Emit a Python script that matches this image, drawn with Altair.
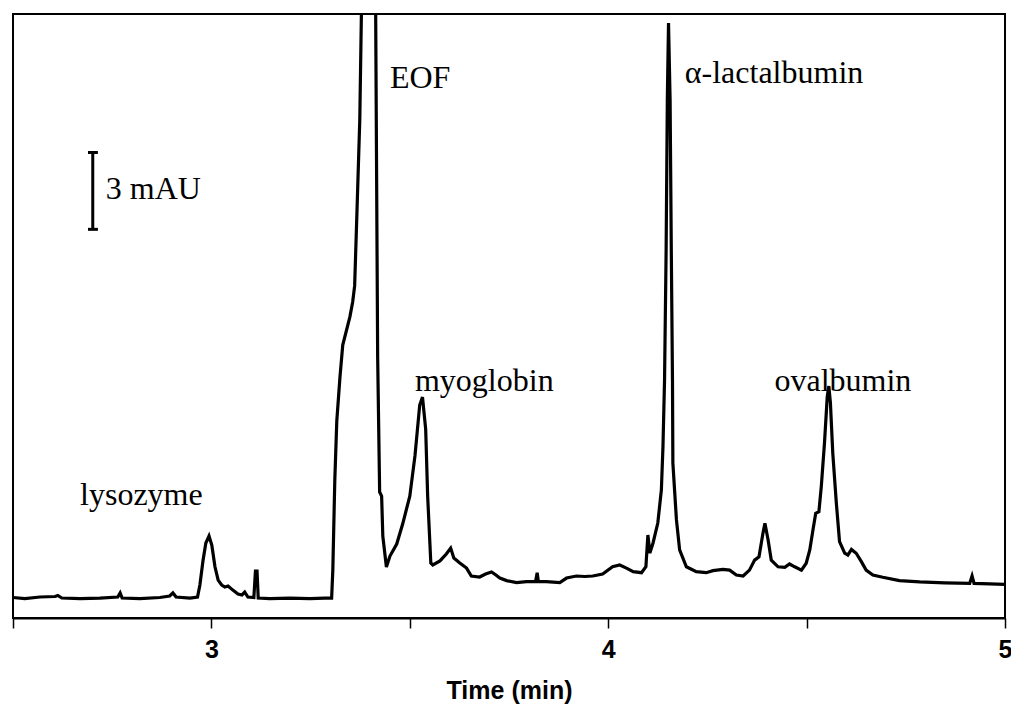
import altair as alt
import pandas as pd

# Electropherogram trace: time (min) and absorbance (mAU, baseline = 0)
time_min = [2.500, 2.530, 2.568, 2.606, 2.613, 2.623, 2.669, 2.719, 2.764, 2.770,
            2.775, 2.820, 2.870, 2.895, 2.903, 2.911, 2.946, 2.965, 2.971, 2.979,
            2.986, 2.994, 3.001, 3.009, 3.017, 3.026, 3.034, 3.042, 3.054, 3.067,
            3.077, 3.084, 3.092, 3.107, 3.111, 3.115, 3.118, 3.147, 3.198, 3.248,
            3.286, 3.303, 3.306, 3.311, 3.316, 3.324, 3.331, 3.349, 3.356, 3.361,
            3.367, 3.374, 3.378, 3.397, 3.414, 3.419, 3.424, 3.429, 3.432, 3.441,
            3.450, 3.467, 3.482, 3.500, 3.513, 3.525, 3.532, 3.540, 3.545, 3.553,
            3.558, 3.576, 3.592, 3.603, 3.611, 3.626, 3.643, 3.655, 3.676, 3.691,
            3.706, 3.717, 3.727, 3.744, 3.769, 3.794, 3.817, 3.821, 3.824, 3.844,
            3.878, 3.895, 3.920, 3.941, 3.961, 3.986, 4.011, 4.029, 4.046, 4.063,
            4.084, 4.095, 4.100, 4.105, 4.113, 4.125, 4.134, 4.138, 4.142, 4.146,
            4.149, 4.152, 4.156, 4.159, 4.162, 4.163, 4.172, 4.180, 4.197, 4.222,
            4.247, 4.264, 4.289, 4.306, 4.323, 4.340, 4.356, 4.369, 4.380, 4.390,
            4.395, 4.403, 4.411, 4.428, 4.445, 4.457, 4.470, 4.487, 4.499, 4.508,
            4.516, 4.523, 4.531, 4.537, 4.545, 4.552, 4.556, 4.560, 4.566, 4.575,
            4.583, 4.596, 4.604, 4.613, 4.625, 4.638, 4.650, 4.667, 4.692, 4.734,
            4.785, 4.848, 4.911, 4.917, 4.922, 4.961, 4.999]
signal_mAU = [0.02, -0.02, 0.04, 0.06, 0.10, 0.00, -0.02, 0.00, 0.04, 0.20,
              0.00, -0.02, 0.02, 0.08, 0.20, 0.04, 0.00, 0.04, 0.51, 1.48,
              2.15, 2.42, 2.07, 1.22, 0.70, 0.51, 0.43, 0.47, 0.31, 0.16,
              0.12, 0.23, 0.04, 0.02, 1.05, 1.05, 0.00, -0.02, 0.00, -0.02,
              0.00, 0.00, 1.09, 4.61, 6.91, 8.63, 9.88, 10.98, 11.56, 12.19,
              15.16, 18.71, 22.81, 39.00, 22.81, 9.41, 4.14, 3.98, 2.42, 1.21,
              1.64, 2.11, 2.89, 3.98, 5.55, 7.54, 7.85, 6.60, 3.98, 1.37,
              1.29, 1.45, 1.72, 1.95, 1.56, 1.37, 1.17, 0.86, 0.82, 0.94,
              1.02, 0.90, 0.78, 0.68, 0.60, 0.64, 0.64, 0.99, 0.64, 0.64,
              0.60, 0.78, 0.86, 0.84, 0.86, 0.94, 1.22, 1.29, 1.17, 1.03,
              0.99, 1.22, 2.46, 1.76, 2.15, 2.93, 4.22, 5.90, 8.52, 13.59,
              19.45, 22.46, 19.45, 13.59, 8.52, 5.27, 3.05, 1.88, 1.22, 1.03,
              0.99, 1.07, 1.12, 1.09, 0.90, 0.86, 1.09, 1.48, 1.61, 2.53,
              2.92, 2.27, 1.48, 1.22, 1.20, 1.33, 1.22, 1.09, 1.36, 1.88,
              2.66, 3.31, 3.37, 4.35, 6.04, 7.86, 8.28, 7.62, 5.65, 3.70,
              2.20, 1.75, 1.68, 1.90, 1.75, 1.42, 1.09, 0.90, 0.81, 0.68,
              0.63, 0.59, 0.57, 0.86, 0.57, 0.55, 0.53]

# Peak labels (text, time, signal at the text baseline)
label_text = ["lysozyme", "EOF", "myoglobin", "\u03b1-lactalbumin", "ovalbumin", "3 mAU"]
label_time = [2.669, 3.450, 3.513, 4.193, 4.419, 2.734]
label_mAU = [3.63, 19.92, 8.09, 20.12, 8.09, 15.59]

# 3 mAU scale bar
bar_time = [2.701]
bar_low = [14.40]
bar_high = [17.40]
cap_left = [2.689, 2.689]
cap_right = [2.714, 2.714]
cap_level = [14.40, 17.40]

tick_values = [2.5, 3.0, 3.5, 4.0, 4.5, 5.0]

trace = pd.DataFrame({"t": time_min, "v": signal_mAU})
labels = pd.DataFrame({"t": label_time, "v": label_mAU, "label": label_text})
bar = pd.DataFrame({"t": bar_time, "lo": bar_low, "hi": bar_high})
caps = pd.DataFrame({"t1": cap_left, "t2": cap_right, "v": cap_level})

x_scale = alt.Scale(domain=[2.5, 5.0], nice=False, zero=False)
y_scale = alt.Scale(domain=[-0.78, 22.81], nice=False, zero=False)

x_axis = alt.Axis(
    values=tick_values,
    labelExpr="datum.value % 1 == 0 ? format(datum.value, 'd') : ''",
    tickSize=10, tickWidth=1.5, tickColor="black",
    domainColor="black", domainWidth=2,
    labelFont="Liberation Sans", labelFontWeight="bold", labelFontSize=25,
    labelColor="black", labelPadding=9, labelFlush=False,
    title="Time (min)", titleFont="Liberation Sans", titleFontWeight="bold",
    titleFontSize=25, titleColor="black", titlePadding=16, grid=False,
)

line = alt.Chart(trace).mark_line(color="black", strokeWidth=3.2, clip=True).encode(
    x=alt.X("t:Q", scale=x_scale, axis=x_axis),
    y=alt.Y("v:Q", scale=y_scale, axis=None),
    order="t:Q",
)

text = alt.Chart(labels).mark_text(
    align="left", baseline="alphabetic", font="Liberation Serif",
    fontSize=32, color="black",
).encode(
    x=alt.X("t:Q", scale=x_scale),
    y=alt.Y("v:Q", scale=y_scale),
    text="label:N",
)

bar_rule = alt.Chart(bar).mark_rule(color="black", strokeWidth=3).encode(
    x=alt.X("t:Q", scale=x_scale),
    y=alt.Y("lo:Q", scale=y_scale),
    y2="hi:Q",
)

cap_rule = alt.Chart(caps).mark_rule(color="black", strokeWidth=3).encode(
    x=alt.X("t1:Q", scale=x_scale),
    x2="t2:Q",
    y=alt.Y("v:Q", scale=y_scale),
)

chart = alt.layer(line, text, bar_rule, cap_rule).properties(
    width=992, height=604,
    autosize=alt.AutoSizeParams(type="none"),
    padding={"left": 13, "top": 14, "right": 6, "bottom": 97},
    background="white",
).configure_view(stroke="black", strokeWidth=2)

chart.save("out.html", embed_options={"renderer": "svg", "actions": False})
